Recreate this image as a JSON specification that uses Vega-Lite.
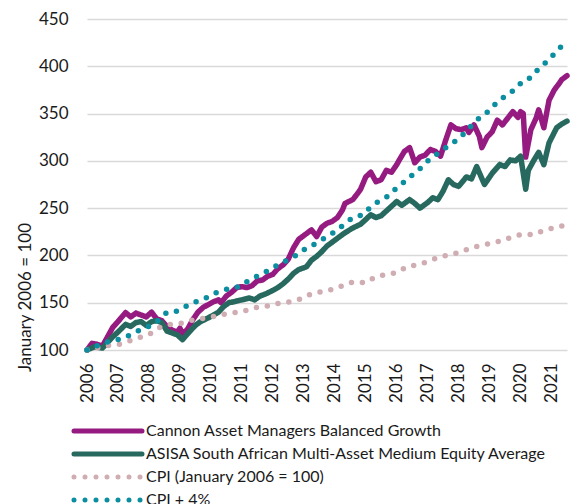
{
  "$schema": "https://vega.github.io/schema/vega-lite/v6.json",
  "width": 480,
  "height": 331,
  "autosize": "none",
  "padding": {"left": 87, "top": 19, "right": 3, "bottom": 154},
  "background": "white",
  "config": {"view": {"stroke": null}, "font": "Lato"},
  "datasets": {
    "names": [
      {"k": "A", "s": "Cannon Asset Managers Balanced Growth"},
      {"k": "B", "s": "ASISA South African Multi-Asset Medium Equity Average"},
      {"k": "C", "s": "CPI (January 2006 = 100)"},
      {"k": "D", "s": "CPI + 4%"}
    ],
    "rows": [
      {"k":"A","d":"2006-01","v":100},{"k":"A","d":"2006-03","v":107},{"k":"A","d":"2006-05","v":106},{"k":"A","d":"2006-07","v":104},{"k":"A","d":"2006-09","v":114},{"k":"A","d":"2006-11","v":124},
      {"k":"A","d":"2007-01","v":130},{"k":"A","d":"2007-04","v":139.5},{"k":"A","d":"2007-06","v":135},{"k":"A","d":"2007-08","v":139},{"k":"A","d":"2007-10","v":137},{"k":"A","d":"2007-12","v":135},
      {"k":"A","d":"2008-02","v":140},{"k":"A","d":"2008-04","v":133},{"k":"A","d":"2008-06","v":131},{"k":"A","d":"2008-08","v":125},{"k":"A","d":"2008-10","v":121},{"k":"A","d":"2008-12","v":119},
      {"k":"A","d":"2009-01","v":123},{"k":"A","d":"2009-02","v":117},{"k":"A","d":"2009-04","v":122},{"k":"A","d":"2009-06","v":132},{"k":"A","d":"2009-08","v":140},{"k":"A","d":"2009-10","v":145},{"k":"A","d":"2009-12","v":148},
      {"k":"A","d":"2010-02","v":151},{"k":"A","d":"2010-04","v":153},{"k":"A","d":"2010-05","v":150},{"k":"A","d":"2010-07","v":157},{"k":"A","d":"2010-09","v":161},{"k":"A","d":"2010-11","v":166},
      {"k":"A","d":"2011-01","v":167},{"k":"A","d":"2011-03","v":166},{"k":"A","d":"2011-05","v":168},{"k":"A","d":"2011-07","v":173},{"k":"A","d":"2011-09","v":174},{"k":"A","d":"2011-11","v":178},
      {"k":"A","d":"2012-01","v":180},{"k":"A","d":"2012-03","v":186},{"k":"A","d":"2012-05","v":190},{"k":"A","d":"2012-07","v":196},{"k":"A","d":"2012-09","v":208},{"k":"A","d":"2012-11","v":217},
      {"k":"A","d":"2013-01","v":221},{"k":"A","d":"2013-03","v":225},{"k":"A","d":"2013-04","v":227},{"k":"A","d":"2013-06","v":220},{"k":"A","d":"2013-08","v":230},{"k":"A","d":"2013-10","v":234},{"k":"A","d":"2013-12","v":236},
      {"k":"A","d":"2014-02","v":240},{"k":"A","d":"2014-04","v":248},{"k":"A","d":"2014-05","v":255},{"k":"A","d":"2014-08","v":259},{"k":"A","d":"2014-10","v":266},{"k":"A","d":"2014-11","v":270},
      {"k":"A","d":"2015-01","v":283},{"k":"A","d":"2015-03","v":288},{"k":"A","d":"2015-05","v":278},{"k":"A","d":"2015-07","v":280},{"k":"A","d":"2015-09","v":290},{"k":"A","d":"2015-11","v":288},
      {"k":"A","d":"2016-01","v":296},{"k":"A","d":"2016-02","v":301},{"k":"A","d":"2016-04","v":310},{"k":"A","d":"2016-06","v":314},{"k":"A","d":"2016-08","v":298},{"k":"A","d":"2016-10","v":304},{"k":"A","d":"2016-12","v":306},
      {"k":"A","d":"2017-02","v":312},{"k":"A","d":"2017-04","v":310},{"k":"A","d":"2017-06","v":305},{"k":"A","d":"2017-08","v":322},{"k":"A","d":"2017-10","v":338},{"k":"A","d":"2017-12","v":334},
      {"k":"A","d":"2018-02","v":333},{"k":"A","d":"2018-04","v":335},{"k":"A","d":"2018-05","v":330},{"k":"A","d":"2018-07","v":338},{"k":"A","d":"2018-09","v":326},{"k":"A","d":"2018-10","v":314},{"k":"A","d":"2018-12","v":325},
      {"k":"A","d":"2019-02","v":331},{"k":"A","d":"2019-04","v":343},{"k":"A","d":"2019-06","v":338},{"k":"A","d":"2019-08","v":345},{"k":"A","d":"2019-10","v":352},{"k":"A","d":"2019-12","v":346},
      {"k":"A","d":"2020-01","v":352},{"k":"A","d":"2020-02","v":350},{"k":"A","d":"2020-03","v":304},{"k":"A","d":"2020-05","v":333},{"k":"A","d":"2020-07","v":345},{"k":"A","d":"2020-08","v":354},{"k":"A","d":"2020-10","v":335},{"k":"A","d":"2020-12","v":364},
      {"k":"A","d":"2021-02","v":375},{"k":"A","d":"2021-04","v":382},{"k":"A","d":"2021-05","v":386},{"k":"A","d":"2021-07","v":390},

      {"k":"B","d":"2006-01","v":100},{"k":"B","d":"2006-04","v":103.5},{"k":"B","d":"2006-07","v":102},{"k":"B","d":"2006-09","v":108},{"k":"B","d":"2006-11","v":114},
      {"k":"B","d":"2007-01","v":119},{"k":"B","d":"2007-04","v":127},{"k":"B","d":"2007-06","v":125},{"k":"B","d":"2007-08","v":129},{"k":"B","d":"2007-10","v":130},{"k":"B","d":"2007-12","v":126},
      {"k":"B","d":"2008-02","v":130},{"k":"B","d":"2008-04","v":131},{"k":"B","d":"2008-06","v":129},{"k":"B","d":"2008-08","v":120},{"k":"B","d":"2008-10","v":118},{"k":"B","d":"2008-12","v":116},
      {"k":"B","d":"2009-02","v":111},{"k":"B","d":"2009-03","v":114},{"k":"B","d":"2009-05","v":120},{"k":"B","d":"2009-07","v":126},{"k":"B","d":"2009-09","v":130},{"k":"B","d":"2009-12","v":134},
      {"k":"B","d":"2010-02","v":137},{"k":"B","d":"2010-04","v":140},{"k":"B","d":"2010-06","v":146},{"k":"B","d":"2010-08","v":150},{"k":"B","d":"2010-10","v":151},
      {"k":"B","d":"2011-01","v":153},{"k":"B","d":"2011-04","v":155},{"k":"B","d":"2011-06","v":153},{"k":"B","d":"2011-08","v":157},{"k":"B","d":"2011-10","v":159},
      {"k":"B","d":"2012-01","v":163},{"k":"B","d":"2012-03","v":166},{"k":"B","d":"2012-05","v":170},{"k":"B","d":"2012-07","v":175},{"k":"B","d":"2012-09","v":181},{"k":"B","d":"2012-11","v":185},
      {"k":"B","d":"2013-02","v":188},{"k":"B","d":"2013-04","v":195},{"k":"B","d":"2013-06","v":199},{"k":"B","d":"2013-08","v":204},{"k":"B","d":"2013-10","v":210},{"k":"B","d":"2013-12","v":214},
      {"k":"B","d":"2014-03","v":220},{"k":"B","d":"2014-05","v":224},{"k":"B","d":"2014-08","v":229},{"k":"B","d":"2014-11","v":233},
      {"k":"B","d":"2015-01","v":238},{"k":"B","d":"2015-03","v":243},{"k":"B","d":"2015-05","v":240},{"k":"B","d":"2015-07","v":242},{"k":"B","d":"2015-09","v":247},{"k":"B","d":"2015-11","v":252},
      {"k":"B","d":"2016-01","v":257},{"k":"B","d":"2016-03","v":253},{"k":"B","d":"2016-06","v":259},{"k":"B","d":"2016-08","v":255},{"k":"B","d":"2016-10","v":250},
      {"k":"B","d":"2017-01","v":256},{"k":"B","d":"2017-03","v":261},{"k":"B","d":"2017-05","v":259},{"k":"B","d":"2017-07","v":268},{"k":"B","d":"2017-09","v":280},{"k":"B","d":"2017-11","v":275},
      {"k":"B","d":"2018-01","v":273},{"k":"B","d":"2018-04","v":283},{"k":"B","d":"2018-06","v":281},{"k":"B","d":"2018-08","v":294},{"k":"B","d":"2018-11","v":275},
      {"k":"B","d":"2019-02","v":287},{"k":"B","d":"2019-05","v":296},{"k":"B","d":"2019-07","v":294},{"k":"B","d":"2019-09","v":301},{"k":"B","d":"2019-11","v":300},
      {"k":"B","d":"2020-01","v":305},{"k":"B","d":"2020-03","v":270},{"k":"B","d":"2020-04","v":290},{"k":"B","d":"2020-06","v":300},{"k":"B","d":"2020-08","v":309},{"k":"B","d":"2020-10","v":296},{"k":"B","d":"2020-12","v":319},
      {"k":"B","d":"2021-03","v":335},{"k":"B","d":"2021-05","v":339},{"k":"B","d":"2021-07","v":342},

      {"k":"C","d":"2006-01","v":100},{"k":"C","d":"2006-09","v":104.6},{"k":"C","d":"2007-01","v":105.7},{"k":"C","d":"2007-06","v":110},{"k":"C","d":"2007-09","v":113},
      {"k":"C","d":"2008-01","v":116.3},{"k":"C","d":"2008-05","v":123.7},{"k":"C","d":"2008-09","v":127},{"k":"C","d":"2009-01","v":128},{"k":"C","d":"2009-05","v":131},{"k":"C","d":"2009-09","v":133},
      {"k":"C","d":"2010-03","v":136},{"k":"C","d":"2010-08","v":139},{"k":"C","d":"2011-01","v":140.5},{"k":"C","d":"2011-06","v":144.8},{"k":"C","d":"2011-12","v":147},
      {"k":"C","d":"2012-04","v":150},{"k":"C","d":"2012-08","v":151},{"k":"C","d":"2013-01","v":155},{"k":"C","d":"2013-04","v":159.6},{"k":"C","d":"2013-08","v":161.7},{"k":"C","d":"2013-12","v":164},
      {"k":"C","d":"2014-04","v":168},{"k":"C","d":"2014-08","v":172},{"k":"C","d":"2015-01","v":171.2},{"k":"C","d":"2015-05","v":177.6},{"k":"C","d":"2015-09","v":179.7},
      {"k":"C","d":"2016-01","v":182},{"k":"C","d":"2016-05","v":188},{"k":"C","d":"2016-09","v":190.3},{"k":"C","d":"2017-01","v":193.4},{"k":"C","d":"2017-05","v":197.8},{"k":"C","d":"2017-09","v":200.5},
      {"k":"C","d":"2018-01","v":203},{"k":"C","d":"2018-05","v":207},{"k":"C","d":"2018-09","v":210.4},{"k":"C","d":"2019-01","v":212.5},{"k":"C","d":"2019-06","v":215.7},{"k":"C","d":"2019-09","v":218.8},
      {"k":"C","d":"2020-01","v":222},{"k":"C","d":"2020-06","v":222},{"k":"C","d":"2020-10","v":226.4},{"k":"C","d":"2021-02","v":229.3},{"k":"C","d":"2021-05","v":231},

      {"k":"D","d":"2006-01","v":100},{"k":"D","d":"2006-08","v":107.8},{"k":"D","d":"2007-01","v":111},{"k":"D","d":"2007-05","v":115},{"k":"D","d":"2007-09","v":120.5},
      {"k":"D","d":"2008-01","v":125},{"k":"D","d":"2008-05","v":132},{"k":"D","d":"2008-08","v":140},{"k":"D","d":"2008-12","v":141},{"k":"D","d":"2009-04","v":147},{"k":"D","d":"2009-08","v":152},{"k":"D","d":"2009-11","v":155},
      {"k":"D","d":"2010-03","v":160.5},{"k":"D","d":"2010-08","v":165},{"k":"D","d":"2010-12","v":167},{"k":"D","d":"2011-04","v":174},{"k":"D","d":"2011-08","v":179.5},{"k":"D","d":"2011-12","v":185},
      {"k":"D","d":"2012-03","v":190},{"k":"D","d":"2012-07","v":195.5},{"k":"D","d":"2012-11","v":201.5},{"k":"D","d":"2013-02","v":208},{"k":"D","d":"2013-06","v":213},{"k":"D","d":"2013-10","v":220},
      {"k":"D","d":"2014-01","v":225},{"k":"D","d":"2014-05","v":233.5},{"k":"D","d":"2014-08","v":240},{"k":"D","d":"2014-12","v":243},{"k":"D","d":"2015-03","v":251.5},{"k":"D","d":"2015-07","v":259},{"k":"D","d":"2015-10","v":263},
      {"k":"D","d":"2016-01","v":271.5},{"k":"D","d":"2016-05","v":280},{"k":"D","d":"2016-08","v":287.5},{"k":"D","d":"2016-11","v":294},{"k":"D","d":"2017-02","v":303},{"k":"D","d":"2017-06","v":309.5},{"k":"D","d":"2017-09","v":316},
      {"k":"D","d":"2018-01","v":323},{"k":"D","d":"2018-04","v":331.5},{"k":"D","d":"2018-07","v":340},{"k":"D","d":"2018-10","v":348},{"k":"D","d":"2019-01","v":353},{"k":"D","d":"2019-04","v":362.5},{"k":"D","d":"2019-08","v":370},{"k":"D","d":"2019-11","v":376},
      {"k":"D","d":"2020-02","v":385},{"k":"D","d":"2020-05","v":388},{"k":"D","d":"2020-08","v":397.5},{"k":"D","d":"2020-11","v":404.5},{"k":"D","d":"2021-02","v":413},{"k":"D","d":"2021-05","v":421.5},{"k":"D","d":"2021-06","v":424}
    ]
  },
  "data": {"name": "rows"},
  "transform": [
    {"lookup": "k", "from": {"data": {"name": "names"}, "key": "k", "fields": ["s"]}}
  ],
  "mark": {"type": "line", "strokeWidth": 5.5, "strokeCap": "round", "strokeJoin": "round", "clip": false},
  "encoding": {
    "x": {
      "field": "d", "type": "temporal",
      "scale": {"type": "utc", "domain": [{"year": 2006, "month": 1, "date": 1, "utc": true}, {"year": 2021, "month": 7, "date": 1, "utc": true}]},
      "axis": {
        "title": null, "grid": false, "domain": false, "ticks": false,
        "values": [
          {"year": 2006, "month": 1, "date": 1, "utc": true}, {"year": 2007, "month": 1, "date": 1, "utc": true},
          {"year": 2008, "month": 1, "date": 1, "utc": true}, {"year": 2009, "month": 1, "date": 1, "utc": true},
          {"year": 2010, "month": 1, "date": 1, "utc": true}, {"year": 2011, "month": 1, "date": 1, "utc": true},
          {"year": 2012, "month": 1, "date": 1, "utc": true}, {"year": 2013, "month": 1, "date": 1, "utc": true},
          {"year": 2014, "month": 1, "date": 1, "utc": true}, {"year": 2015, "month": 1, "date": 1, "utc": true},
          {"year": 2016, "month": 1, "date": 1, "utc": true}, {"year": 2017, "month": 1, "date": 1, "utc": true},
          {"year": 2018, "month": 1, "date": 1, "utc": true}, {"year": 2019, "month": 1, "date": 1, "utc": true},
          {"year": 2020, "month": 1, "date": 1, "utc": true}, {"year": 2021, "month": 1, "date": 1, "utc": true}
        ],
        "labelExpr": "utcFormat(datum.value, '%Y')",
        "labelAngle": -90, "labelAlign": "right", "labelBaseline": "middle",
        "labelPadding": 13, "labelFontSize": 17, "labelColor": "#1a1a1a", "labelOverlap": false, "labelBound": false, "labelFlush": false
      }
    },
    "y": {
      "field": "v", "type": "quantitative",
      "scale": {"domain": [100, 450], "nice": false, "zero": false},
      "axis": {
        "values": [100, 150, 200, 250, 300, 350, 400, 450],
        "title": "January 2006 = 100", "titleFontSize": 17, "titleFontWeight": "normal", "titleColor": "#1a1a1a",
        "titleX": -62, "titleY": 278, "titleAngle": -90, "titleAlign": "center", "titleBaseline": "middle",
        "domain": false, "ticks": false, "grid": true, "gridColor": "#d9d9d9", "gridWidth": 1.5,
        "labelPadding": 19, "labelFontSize": 17, "labelColor": "#1a1a1a"
      }
    },
    "color": {
      "field": "s", "type": "nominal",
      "scale": {
        "domain": ["Cannon Asset Managers Balanced Growth", "ASISA South African Multi-Asset Medium Equity Average", "CPI (January 2006 = 100)", "CPI + 4%"],
        "range": ["#951b81", "#27695f", "#d0adb2", "#0b8e9f"]
      },
      "legend": {
        "title": null, "orient": "none", "legendX": 13, "legendY": 404, "padding": 0,
        "symbolType": "M-8.5,0H8.5", "symbolSize": 64, "symbolStrokeWidth": 5,
        "labelFontSize": 16, "labelColor": "#1a1a1a", "labelOffset": 30, "labelLimit": 0, "rowPadding": 3,
        "encode": {"symbols": {"update": {"strokeCap": {"value": "round"}}}}
      }
    },
    "strokeDash": {
      "field": "s", "type": "nominal",
      "scale": {
        "domain": ["Cannon Asset Managers Balanced Growth", "ASISA South African Multi-Asset Medium Equity Average", "CPI (January 2006 = 100)", "CPI + 4%"],
        "range": [[1, 0], [1, 0], [0, 11], [0, 11]]
      },
      "legend": {"title": null}
    },
    "order": {"field": "k", "type": "ordinal", "sort": "descending"}
  }
}
